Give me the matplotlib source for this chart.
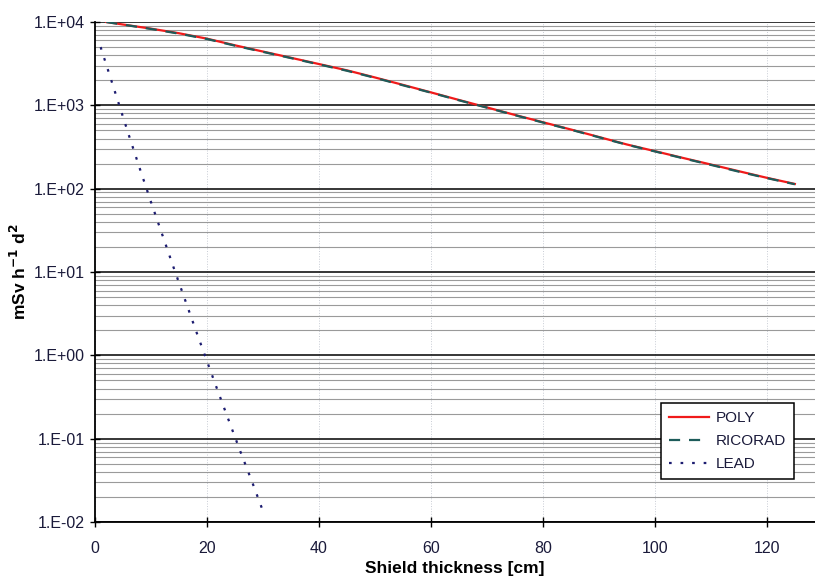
import numpy as np
import matplotlib
matplotlib.use("Agg")
import matplotlib.pyplot as plt
from matplotlib.ticker import LogLocator, FixedLocator, FuncFormatter

plt.rcParams['font.family'] = ['Liberation Sans', 'DejaVu Sans']

# dose rate vs. shield thickness
thick_poly = [2, 5, 10, 15, 20, 25, 30, 35, 40, 45, 50, 55, 60, 65,
              70, 75, 80, 85, 90, 95, 100, 105, 110, 115, 120, 125]
poly = [10000, 9330, 8320, 7330, 6310, 5250, 4420, 3720, 3130, 2630, 2160, 1760, 1430, 1160,
        944, 767, 627, 513, 417, 339, 282, 234, 195, 162, 135, 114]
ricorad = [10000, 9300, 8250, 7250, 6250, 5200, 4380, 3690, 3100, 2600, 2140, 1740, 1420, 1150,
           938, 762, 622, 510, 414, 337, 280, 232, 193, 160, 134, 113]

thick_lead = [1, 2, 4, 6, 8, 10, 12, 14, 16, 18, 20, 22, 24, 26, 28, 30]
lead = [5000, 3090, 1175, 447, 174, 69, 28.2, 11.5, 4.8, 2.0, 0.85, 0.363, 0.158, 0.069, 0.031, 0.0135]

fig = plt.figure(figsize=(8.15, 5.79), dpi=100)
ax = fig.add_axes([0.1166, 0.0984, 0.8834, 0.8636])

ax.plot(thick_poly, poly, color='#f01a1a', lw=1.6, label='POLY')
ax.plot(thick_poly, ricorad, color='#1d5c5a', lw=1.6, ls=(0, (5, 4)), label='RICORAD')
ax.plot(thick_lead, lead, color='#1c1c70', lw=1.6, ls=(0, (1.2, 4)), label='LEAD')

ax.set_yscale('log')
ax.set_ylim(1e-2, 1e4)
ax.set_xlim(0, 128.6)

ax.xaxis.set_major_locator(FixedLocator([0, 20, 40, 60, 80, 100, 120]))
ax.yaxis.set_major_locator(LogLocator(base=10, numticks=10))
ax.yaxis.set_minor_locator(LogLocator(base=10, subs=np.arange(2, 10), numticks=20))
ax.yaxis.set_major_formatter(FuncFormatter(lambda v, p: '1.E%+03d' % int(round(np.log10(v)))))
ax.yaxis.set_minor_formatter(FuncFormatter(lambda v, p: ''))

ax.grid(which='major', axis='y', color='black', lw=1.1)
ax.grid(which='minor', axis='y', color='#9a9a9a', lw=0.8)
ax.grid(which='major', axis='x', color='#c8ccd4', lw=0.7, ls=':')

ax.tick_params(axis='both', which='major', direction='inout', length=7, width=1,
               labelsize=11.5, colors='black', labelcolor='#1a1a3a')
ax.tick_params(axis='x', which='major', pad=10)
ax.tick_params(axis='y', which='major', pad=4)
ax.tick_params(axis='y', which='minor', length=0)

for side in ('top', 'right'):
    ax.spines[side].set_visible(False)
for side in ('left', 'bottom'):
    ax.spines[side].set_linewidth(1.3)

ax.set_xlabel('Shield thickness [cm]', fontsize=12.5, fontweight='bold', labelpad=4)
ax.set_ylabel('mSv h$^{\\mathbf{-1}}$ d$^{\\mathbf{2}}$', fontsize=12.5, fontweight='bold', labelpad=3)

leg = ax.legend(loc='lower right', bbox_to_anchor=(0.971, 0.086), fontsize=11,
                frameon=True, fancybox=False, edgecolor='black', framealpha=1,
                handlelength=2.6, handletextpad=0.5, borderpad=0.5, labelspacing=0.6,
                borderaxespad=0)
leg.get_frame().set_linewidth(1.1)
for t in leg.get_texts():
    t.set_color('#1a1a3a')

fig.savefig('out.png', dpi=100)
